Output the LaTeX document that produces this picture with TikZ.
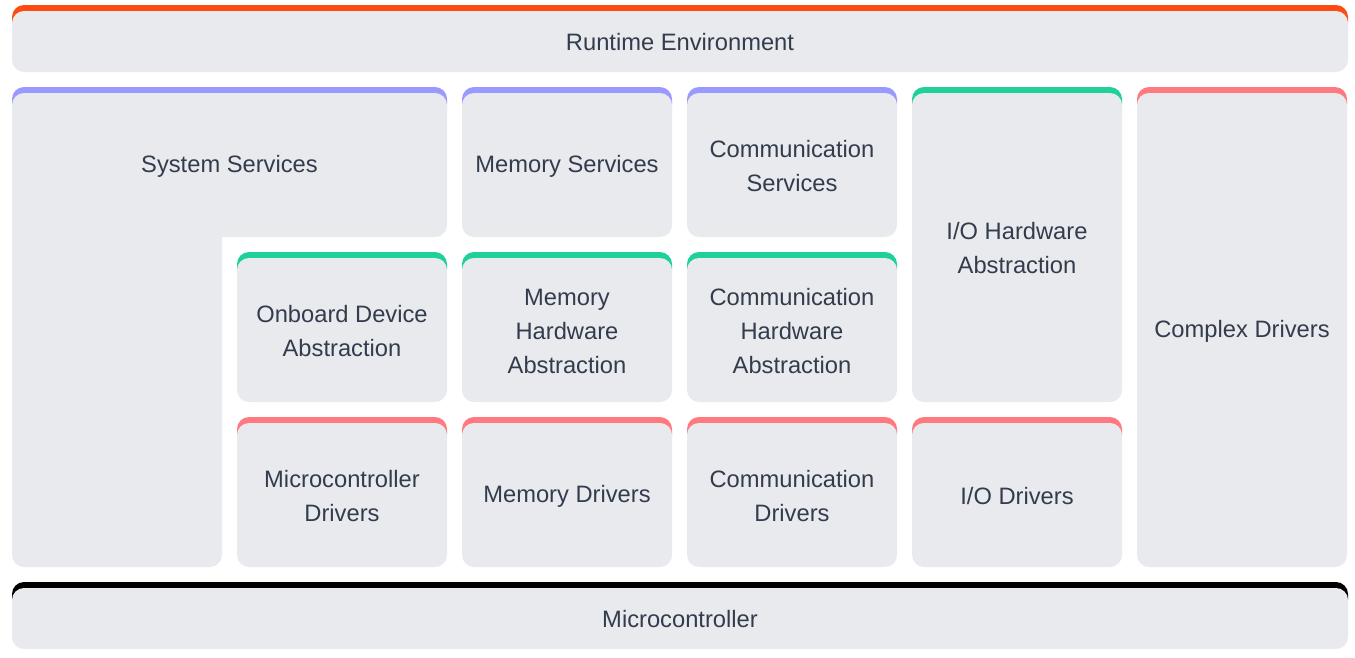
\documentclass[tikz,border=0pt]{standalone}
\usepackage{fontspec}
\setmainfont{Liberation Sans}
\usetikzlibrary{positioning}
\definecolor{panelgrey}{RGB}{233,234,238}
\definecolor{captiontext}{RGB}{51,60,76}
\definecolor{barorange}{RGB}{255,74,18}
\definecolor{barpurple}{RGB}{153,153,255}
\definecolor{bargreen}{RGB}{32,208,154}
\definecolor{barred}{RGB}{255,122,128}
\definecolor{barblack}{RGB}{0,0,0}

\begin{document}
\begin{tikzpicture}[x=0.02cm,y=-0.02cm]

    \tikzstyle{bar}=[rounded corners=0.24cm]
    \tikzstyle{panel}=[fill=panelgrey,rounded corners=0.24cm]
    \tikzstyle{caption}=[text=captiontext,align=center,inner sep=0pt,font=\fontsize{13.5pt}{19.35pt}\selectfont]

\useasboundingbox (0,0) rectangle (1355,657);

% top layer
\fill[bar,barorange] (12,5) rectangle (1348,35);
\fill[panel] (12,11) rectangle (1348,72);
\node (runtime) [caption] at (680,42.5) {Runtime Environment};

% services row
\fill[bar,barpurple] (12,87) rectangle (447,117);
\fill[panel] (12,93) rectangle (447,237);
\fill[panel] (12,200) rectangle (222,567);
\node (sys_serv) [caption] at (229.5,166) {System Services};

\fill[bar,barpurple] (462,87) rectangle (672,117);
\fill[panel] (462,93) rectangle (672,237);
\node (mem_serv) [caption] at (567,166) {Memory Services};

\fill[bar,barpurple] (687,87) rectangle (897,117);
\fill[panel] (687,93) rectangle (897,237);
\node (com_serv) [caption] at (792,166) {Communication\\Services};

\fill[bar,bargreen] (912,87) rectangle (1122,117);
\fill[panel] (912,93) rectangle (1122,402);
\node (io_hw) [caption] at (1017,248.5) {I/O Hardware\\Abstraction};

\fill[bar,barred] (1137,87) rectangle (1347,117);
\fill[panel] (1137,93) rectangle (1347,567);
\node (cdd) [caption] at (1242,331) {Complex Drivers};

% abstraction row
\fill[bar,bargreen] (237,252) rectangle (447,282);
\fill[panel] (237,258) rectangle (447,402);
\node (onb_hw) [caption] at (342,331) {Onboard Device\\Abstraction};

\fill[bar,bargreen] (462,252) rectangle (672,282);
\fill[panel] (462,258) rectangle (672,402);
\node (mem_hw) [caption] at (567,331) {Memory\\Hardware\\Abstraction};

\fill[bar,bargreen] (687,252) rectangle (897,282);
\fill[panel] (687,258) rectangle (897,402);
\node (com_hw) [caption] at (792,331) {Communication\\Hardware\\Abstraction};

% driver row
\fill[bar,barred] (237,417) rectangle (447,447);
\fill[panel] (237,423) rectangle (447,567);
\node (mcu_drv) [caption] at (342,496) {Microcontroller\\Drivers};

\fill[bar,barred] (462,417) rectangle (672,447);
\fill[panel] (462,423) rectangle (672,567);
\node (mem_drv) [caption] at (567,496) {Memory Drivers};

\fill[bar,barred] (687,417) rectangle (897,447);
\fill[panel] (687,423) rectangle (897,567);
\node (com_drv) [caption] at (792,496) {Communication\\Drivers};

\fill[bar,barred] (912,417) rectangle (1122,447);
\fill[panel] (912,423) rectangle (1122,567);
\node (io_drv) [caption] at (1017,496) {I/O Drivers};

% bottom layer
\fill[bar,barblack] (12,582) rectangle (1348,612);
\fill[panel] (12,588) rectangle (1348,649);
\node (mcu) [caption] at (680,619.5) {Microcontroller};

\end{tikzpicture}
\end{document}
